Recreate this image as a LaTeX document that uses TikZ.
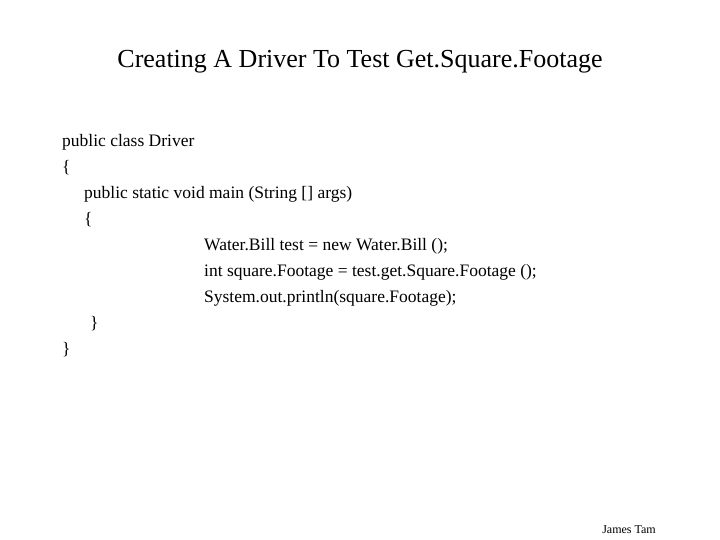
\documentclass[tikz,border=0pt]{standalone}
\usepackage{fontspec}
\setmainfont{Liberation Serif}
\begin{document}
\begin{tikzpicture}[x=1pt,y=-1pt,
  code/.style={anchor=west,inner sep=0pt,font=\fontsize{17.5}{20}\selectfont}]
\useasboundingbox (0,0) rectangle (720,540);
\node[font=\fontsize{26}{30}\selectfont] (title) at (360,62) {Creating A Driver To Test Get.Square.Footage};
\node[code] (l1) at (62,142) {public class Driver};
\node[code] (l2) at (62,168) {\{};
\node[code] (l3) at (84,194) {public static void main (String [] args)};
\node[code] (l4) at (84,220) {\{};
\node[code] (l5) at (204,246) {Water.Bill test = new Water.Bill ();};
\node[code] (l6) at (204,272) {int square.Footage = test.get.Square.Footage ();};
\node[code] (l7) at (204,298) {System.out.println(square.Footage);};
\node[code] (l8) at (90,324) {\}};
\node[code] (l9) at (62,350) {\}};
\node[anchor=east,inner sep=0pt,font=\fontsize{12}{14}\selectfont] (auth) at (656,530) {James Tam};
\end{tikzpicture}
\end{document}
